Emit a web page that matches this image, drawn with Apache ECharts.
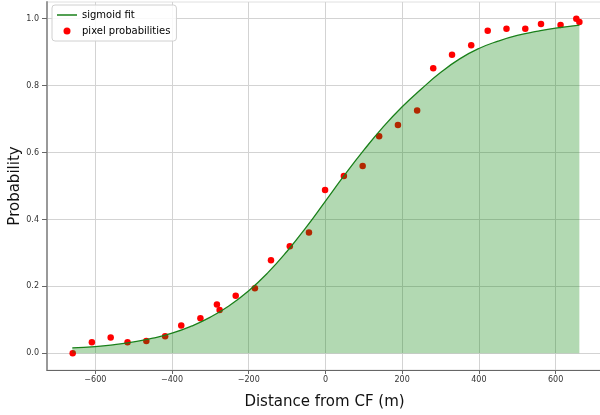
<!DOCTYPE html>
<html><head><meta charset="utf-8">
<script src="https://cdn.jsdelivr.net/npm/echarts@6/dist/echarts.min.js"></script>
<style>html,body{margin:0;padding:0;background:#fff}#c{width:600px;height:415px}</style>
</head><body><div id="c"></div>
<script>
// pixel probabilities (scatter)
const pointX = [-659,-609,-560,-516,-467,-418,-376,-326,-283,-276,-234,-184,-142,-93,-43,-1,48,97,140,189,239,281,330,380,423,472,521,562,613,654,662];
const pointY = [0.0,0.033,0.047,0.033,0.037,0.051,0.083,0.105,0.146,0.129,0.172,0.194,0.278,0.320,0.361,0.488,0.530,0.560,0.649,0.682,0.726,0.852,0.892,0.921,0.964,0.970,0.970,0.984,0.981,1.0,0.990];
// sigmoid fit curve
const fitX = [-660,-600,-550,-500,-450,-400,-350,-300,-250,-200,-150,-100,-50,0,50,100,150,200,250,300,350,400,450,500,550,600,662];
const fitY = [0.016,0.020,0.026,0.034,0.045,0.060,0.081,0.108,0.143,0.187,0.241,0.305,0.377,0.455,0.533,0.607,0.676,0.737,0.790,0.839,0.880,0.911,0.933,0.950,0.962,0.972,0.981];
const xTicks = [-600,-400,-200,0,200,400,600];
const yTicks = [0.0,0.2,0.4,0.6,0.8,1.0];
const seriesNames = ['sigmoid fit','pixel probabilities'];

const chart = echarts.init(document.getElementById('c'), null, {renderer:'canvas'});
const font = 'DejaVu Sans';
chart.setOption({
  animation:false,
  grid:{left:47, right:-2, top:2, bottom:45, outerBoundsMode:'none', containLabel:false,
    show:true, borderColor:'#e0e0e0', borderWidth:1, backgroundColor:'transparent'},
  legend:{
    left:52, top:5, orient:'vertical', padding:[5,6,5,5], itemGap:6,
    backgroundColor:'rgba(255,255,255,0.85)', borderColor:'#d0d0d0', borderWidth:1, borderRadius:3,
    itemWidth:20, itemHeight:7,
    textStyle:{fontFamily:font, fontSize:10, color:'#000'},
    data:[
      {name:seriesNames[0], icon:'path://M0,0 L40,0 L40,3 L0,3 Z'},
      {name:seriesNames[1], icon:'circle'}
    ]
  },
  xAxis:{
    type:'value', min:-726, max:721,
    name:'Distance from CF (m)', nameLocation:'middle', nameGap:25, nameMoveOverlap:false,
    nameTextStyle:{fontFamily:font, fontSize:15, color:'#111'},
    axisLine:{show:true, onZero:false, lineStyle:{color:'#666', width:1.2}},
    axisTick:{show:true, length:4, customValues:xTicks, lineStyle:{color:'#666'}},
    axisLabel:{customValues:xTicks, fontFamily:font, fontSize:8, color:'#333', margin:6,
      formatter:v=>v<0?'\u2212'+Math.abs(v):String(v)},
    splitLine:{show:true, lineStyle:{color:'#d3d3d3', width:1}}
  },
  yAxis:{
    type:'value', min:-0.05, max:1.05,
    name:'Probability', nameLocation:'middle', nameGap:24, nameRotate:90, nameMoveOverlap:false,
    nameTextStyle:{fontFamily:font, fontSize:15, color:'#111'},
    axisLine:{show:true, onZero:false, lineStyle:{color:'#999', width:2}},
    axisTick:{show:true, length:5, customValues:yTicks, lineStyle:{color:'#666'}},
    axisLabel:{customValues:yTicks, fontFamily:font, fontSize:8, color:'#333', margin:8,
      formatter:v=>v.toFixed(1)},
    splitLine:{show:true, lineStyle:{color:'#d3d3d3', width:1}}
  },
  series:[
    {
      name:seriesNames[0], type:'line', z:3, smooth:0.5, symbol:'none',
      data:fitX.map((x,i)=>[x,fitY[i]]),
      lineStyle:{color:'#1a801a', width:1.3},
      itemStyle:{color:'#1a801a'},
      areaStyle:{color:'rgb(0,128,0)', opacity:0.3, origin:0}
    },
    {
      name:seriesNames[1], type:'scatter', z:2, symbol:'circle', symbolSize:6.5,
      data:pointX.map((x,i)=>[x,pointY[i]]),
      itemStyle:{color:'#ff0000', opacity:1}
    }
  ]
});
</script></body></html>
